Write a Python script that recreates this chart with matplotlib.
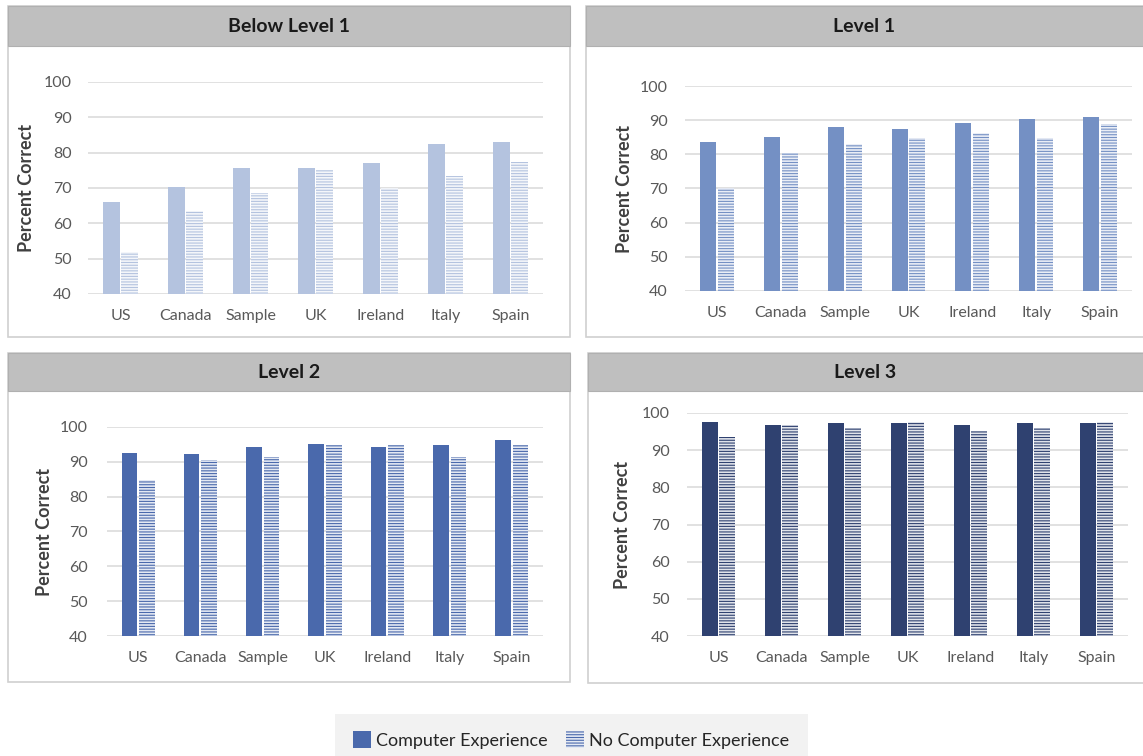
import numpy as np
import matplotlib
matplotlib.use('Agg')
import matplotlib.pyplot as plt
from matplotlib.patches import Rectangle
from matplotlib.colors import to_rgb

# Percent correct by country, one pair of series per proficiency level
countries = ['US', 'Canada', 'Sample', 'UK', 'Ireland', 'Italy', 'Spain']
levels = ['Below Level 1', 'Level 1', 'Level 2', 'Level 3']

below1_comp = [66.1, 70.2, 75.7, 75.7, 77.0, 82.4, 83.1]
below1_nocomp = [51.8, 63.5, 68.5, 75.1, 70.1, 73.4, 77.4]
level1_comp = [83.6, 85.0, 87.9, 87.5, 89.2, 90.4, 90.9]
level1_nocomp = [70.0, 80.4, 82.9, 84.7, 86.3, 84.7, 89.0]
level2_comp = [92.5, 92.2, 94.3, 95.1, 94.3, 94.7, 96.3]
level2_nocomp = [84.7, 90.6, 91.4, 94.9, 94.9, 91.4, 94.9]
level3_comp = [97.7, 96.9, 97.3, 97.3, 96.9, 97.3, 97.3]
level3_nocomp = [93.5, 96.7, 96.0, 97.5, 95.2, 96.0, 97.5]

comp_series = [below1_comp, level1_comp, level2_comp, level3_comp]
nocomp_series = [below1_nocomp, level1_nocomp, level2_nocomp, level3_nocomp]
colors = ['#b4c3df', '#7490c4', '#4a69ac', '#2f4170']

W, H = 1143, 756
plt.rcParams['font.family'] = ['Lato', 'DejaVu Sans']
plt.rcParams['hatch.linewidth'] = 0.8

fig = plt.figure(figsize=(W / 100, H / 100), dpi=100)
fig.patch.set_facecolor('white')


def fbox(x0, y0, x1, y1):
    # pixel box (top-left origin) -> figure fraction [left, bottom, width, height]
    return [x0 / W, 1 - y1 / H, (x1 - x0) / W, (y1 - y0) / H]


def blend(c, t):
    r, g, b = to_rgb(c)
    return (1 - t * (1 - r), 1 - t * (1 - g), 1 - t * (1 - b))


# frame, title band, plot area, y label x position, tick pad (px)
panels = [
    dict(frame=(8, 6, 570, 337), band=46, plot=(88, 82, 543, 294), ylab=27, pad=16),
    dict(frame=(586, 6, 1150, 337), band=46, plot=(685, 86, 1132, 291), ylab=624, pad=17),
    dict(frame=(8, 353, 570, 682), band=391, plot=(107, 427, 543, 636), ylab=45, pad=19),
    dict(frame=(588, 353, 1150, 683), band=391, plot=(687, 413, 1128, 636), ylab=623, pad=17),
]

x = np.arange(len(countries))
bw = 0.25
gap = 0.03
bar_handles = None

for i, p in enumerate(panels):
    fx0, fy0, fx1, fy1 = p['frame']
    b = fbox(fx0, fy0, fx1, fy1)
    fig.add_artist(Rectangle((b[0], b[1]), b[2], b[3], transform=fig.transFigure,
                             facecolor='white', edgecolor='#d0d0d0', lw=1.2, zorder=-5))
    tb = fbox(fx0, fy0, fx1, p['band'])
    fig.add_artist(Rectangle((tb[0], tb[1]), tb[2], tb[3], transform=fig.transFigure,
                             facecolor='#bfbfbf', edgecolor='#b0b0b0', lw=0.8, zorder=-4))
    fig.text((fx0 + min(fx1, W)) / 2 / W, 1 - (fy0 + p['band']) / 2 / H, levels[i],
             ha='center', va='center', fontsize=14, fontweight='bold', color='#1a1a1a')

    ax = fig.add_axes(fbox(*p['plot']))
    ax.set_facecolor('none')
    col = colors[i]
    b1 = ax.bar(x - (bw + gap) / 2, comp_series[i], bw, color=col,
                edgecolor=col, linewidth=0, zorder=3, label='Computer Experience')
    b2 = ax.bar(x + (bw + gap) / 2, nocomp_series[i], bw, color=blend(col, 0.15),
                edgecolor=col, hatch='------', linewidth=0, zorder=3,
                label='No Computer Experience')
    if i == 2:
        bar_handles = [b1, b2]

    ax.set_ylim(40, 100)
    ax.set_xlim(-0.5, len(countries) - 0.5)
    ax.set_yticks(range(40, 101, 10))
    ax.set_xticks(x)
    ax.set_xticklabels(countries)
    ax.grid(axis='y', color='#d9d9d9', lw=1.1, zorder=0)
    for s in ax.spines.values():
        s.set_visible(False)
    ax.tick_params(axis='both', length=0, labelsize=11.5, labelcolor='#595959')
    ax.tick_params(axis='y', pad=p['pad'] * 0.72)
    # baseline-aligned country names, like the y label spacing
    ax.tick_params(axis='x', pad=19)
    for lbl in ax.get_xticklabels():
        lbl.set_verticalalignment('baseline')

    fig.text(p['ylab'] / W, 1 - (p['plot'][1] + p['plot'][3]) / 2 / H, 'Percent Correct',
             rotation=90, ha='center', va='center', fontsize=13, fontweight='bold',
             color='#404040')

# shared legend strip at the bottom
lb = fbox(335, 714, 808, 760)
fig.add_artist(Rectangle((lb[0], lb[1]), lb[2], lb[3], transform=fig.transFigure,
                         facecolor='#f2f2f2', edgecolor='none', zorder=-5))
leg = fig.legend(bar_handles, ['Computer Experience', 'No Computer Experience'],
                 loc='center', bbox_to_anchor=(571 / W, 1 - 740 / H), ncol=2,
                 frameon=False, fontsize=13, handlelength=1.0, handleheight=1.0,
                 handletextpad=0.3, columnspacing=1.0, labelcolor='#262626')

fig.savefig('out.png', dpi=100, facecolor='white')
